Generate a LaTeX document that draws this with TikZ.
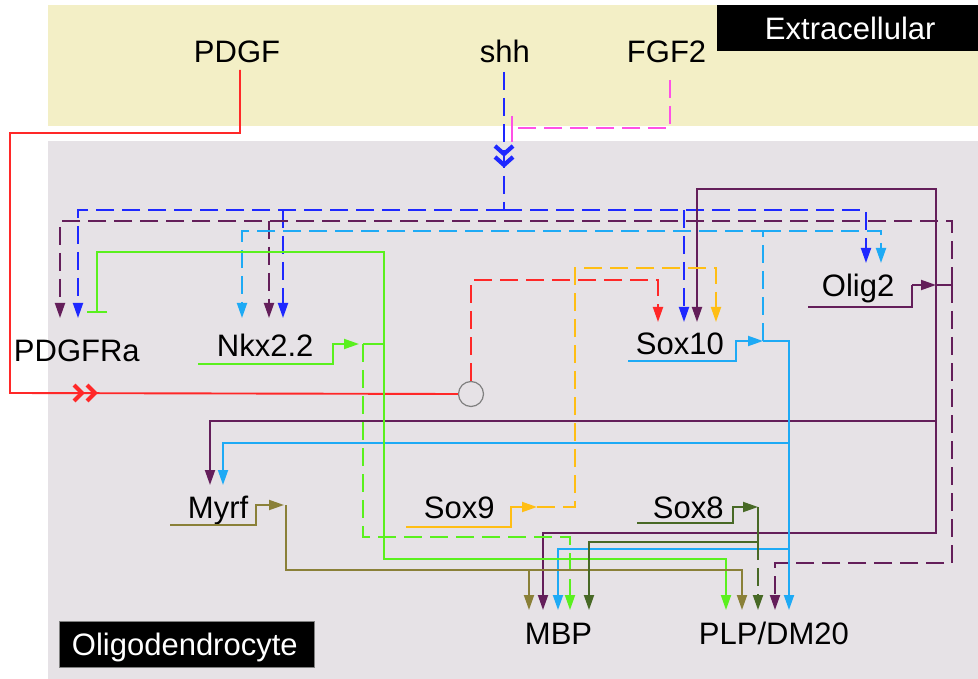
\documentclass[tikz,border=0pt]{standalone}
\usepackage{fontspec}
\setmainfont{Liberation Sans}
\usetikzlibrary{arrows.meta}
\definecolor{cBlue}{RGB}{30,40,255}
\definecolor{cPurp}{RGB}{100,30,90}
\definecolor{cCyan}{RGB}{30,170,245}
\definecolor{cGreen}{RGB}{90,240,30}
\definecolor{cYel}{RGB}{255,190,20}
\definecolor{cOlive}{RGB}{138,128,56}
\definecolor{cDkGreen}{RGB}{72,105,38}
\definecolor{cRed}{RGB}{255,40,40}
\definecolor{cMag}{RGB}{255,80,230}
\definecolor{cBeige}{RGB}{243,239,198}
\definecolor{cGrayBg}{RGB}{230,226,230}
\begin{document}
\begin{tikzpicture}[x=1pt,y=-1pt,line width=1.9pt,
  lbl/.style={anchor=base west,inner sep=0pt,font=\fontsize{31}{36}\selectfont},
  arr/.style={-{Triangle[length=15pt,width=10pt]}},
  dsh/.style={dash pattern=on 18pt off 8pt},
  chev/.style={line width=4.2pt},
  tbar/.style={-{Bar[width=20pt]}}]
\useasboundingbox (0,0) rectangle (978,679);
% backgrounds
\fill[cBeige] (48,5) rectangle (978,126);
\fill[cGrayBg] (48,141) rectangle (978,679);
\fill[black] (717,5) rectangle (978,51);
\filldraw[black,draw=gray,line width=0.8pt] (59,621) rectangle (314,667);
\node[lbl,text=white] (extxt) at (764,40) {Extracellular};
\node[lbl,text=white] (oltxt) at (71,655) {Oligodendrocyte};
% labels
\node[lbl] (pdgf) at (193,63) {PDGF};
\node[lbl] (shh) at (479,63) {shh};
\node[lbl] (fgf) at (626,63) {FGF2};
\node[lbl] (pdgfra) at (13,361) {PDGFRa};
\node[lbl] (nkx) at (216,356) {Nkx2.2};
\node[lbl] (sox10) at (635,355) {Sox10};
\node[lbl] (olig) at (821,297) {Olig2};
\node[lbl] (myrf) at (187,518) {Myrf};
\node[lbl] (sox9) at (423,518) {Sox9};
\node[lbl] (sox8) at (652,518) {Sox8};
\node[lbl] (mbp) at (524,644) {MBP};
\node[lbl] (plp) at (698,644) {PLP/DM20};
% hub circle
\node[circle,draw=gray,line width=1.2pt,minimum size=25pt,inner sep=0pt] (hub) at (471,394) {};
% junction coordinates
\coordinate (oligJ) at (952,285);
\coordinate (sox10J) at (763,341);
\coordinate (nkxJ) at (363,344);
\coordinate (sox9J) at (537,507);
\coordinate (myrfJ) at (286,505);
\coordinate (sox8J) at (758,507);
% red: PDGF
\draw[cRed] (240,70) -- (240,133) -- (10,133) -- (10,393) -- (hub.west);
\draw[cRed,chev] (74,385) -- (82,393) -- (74,401) (87,385) -- (95,393) -- (87,401);
\draw[cRed,dsh,arr] (hub.north) -- (471,280) -- (658,280) -- (658,322);
% blue: shh
\draw[cBlue,dsh] (504,72) -- (504,210);
\draw[cBlue,chev] (495,146) -- (504,154) -- (513,146) (495,157) -- (504,165) -- (513,157);
\draw[cBlue,dsh,arr] (504,210) -| (78,318);
\draw[cBlue,dsh,arr] (283,210) -- (283,318);
\draw[cBlue,dsh,arr] (504,210) -| (866,263);
\draw[cBlue,dsh,arr] (684,210) -- (684,322);
% magenta: FGF2
\draw[cMag,dsh] (670,80) |- (512,128);
\draw[cMag] (512,116) -- (512,142);
% purple: Olig2
\draw[cPurp] (808,307) -- (912,307) -- (912,285);
\draw[cPurp,arr] (912,285) -- (936,285);
\draw[cPurp] (936,285) -- (oligJ);
\draw[cPurp,dsh,arr] (oligJ) -- (952,221) -| (60,318);
\draw[cPurp,dsh,arr] (269,221) -- (269,318);
\draw[cPurp,dsh,arr] (oligJ) -- (952,563) -| (775,610);
\draw[cPurp,arr] (936,285) -- (936,189) -| (697,322);
\draw[cPurp,arr] (936,285) -- (936,533) -| (543,610);
\draw[cPurp,arr] (936,421) -| (210,485);
% cyan: Sox10
\draw[cCyan,arr] (628,361) -- (736,361) -- (736,341) -- (sox10J);
\draw[cCyan,arr] (sox10J) -| (789,610);
\draw[cCyan,arr] (789,443) -| (223,485);
\draw[cCyan,arr] (789,549) -| (558,610);
\draw[cCyan,dsh,arr] (sox10J) -- (763,231) -| (242,318);
\draw[cCyan,dsh,arr] (763,231) -| (881,263);
% green: Nkx2.2
\draw[cGreen,arr] (198,364) -- (333,364) -- (333,344) -- (359,344);
\draw[cGreen] (nkxJ) -- (384,344);
\draw[cGreen,tbar] (384,344) -- (384,252) -| (97,313);
\draw[cGreen,arr] (384,344) -- (384,559) -| (726,610);
\draw[cGreen,dsh,arr] (nkxJ) -- (363,537) -| (570,610);
% yellow: Sox9
\draw[cYel,arr] (406,527) -- (511,527) -- (511,507) -- (sox9J);
\draw[cYel,dsh,arr] (sox9J) -- (575,507) -- (575,268) -| (716,322);
% olive: Myrf
\draw[cOlive,arr] (170,525) -- (256,525) -- (256,505) -- (284,505);
\draw[cOlive,arr] (myrfJ) -- (286,570) -| (742,610);
\draw[cOlive,arr] (529,570) -- (529,610);
% dark green: Sox8
\draw[cDkGreen,arr] (637,523) -- (733,523) -- (733,507) -- (sox8J);
\draw[cDkGreen] (sox8J) -- (758,542);
\draw[cDkGreen,arr] (758,542) -| (589,610);
\draw[cDkGreen,dsh,arr] (758,542) -- (758,610);
\end{tikzpicture}
\end{document}
